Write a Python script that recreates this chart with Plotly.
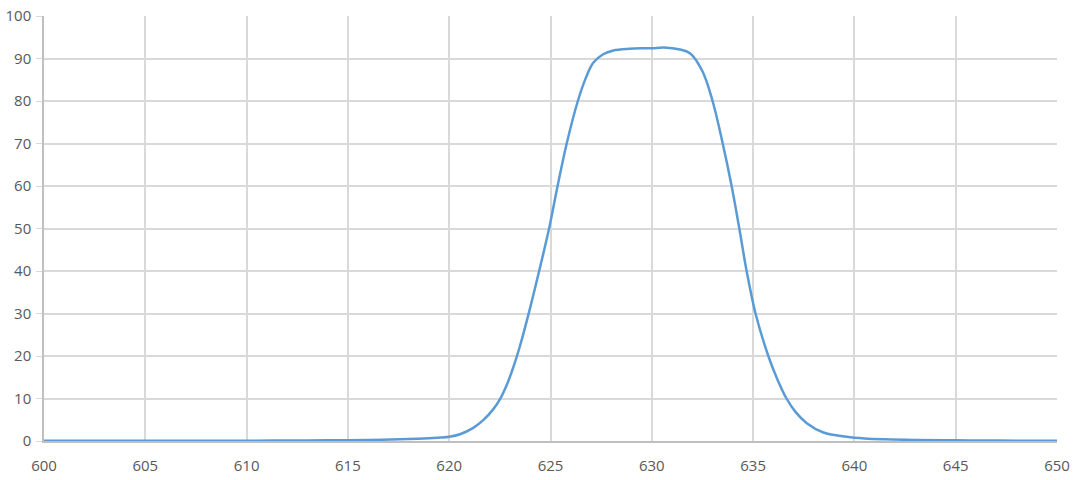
import plotly.graph_objects as go

# wavelength (nm) and transmission (%)
wavelength = [600, 605, 610, 612, 614, 616, 618, 619, 619.55, 620, 620.53, 621.19,
              621.68, 622.18, 622.5, 622.84, 623.16, 623.49, 623.95, 624.44, 624.93,
              625.35, 625.8, 626.35, 626.75, 627.11, 627.6, 628.1, 628.9, 629.5, 630.0,
              630.6, 631.4, 631.9, 632.5, 633.0, 633.5, 633.94, 634.32, 634.68, 635.12,
              635.75, 636.2, 636.65, 637.1, 637.65, 638.47, 639.62, 640.5, 641.5, 643,
              645, 647, 650]
transmission = [0.05, 0.05, 0.08, 0.1, 0.15, 0.25, 0.45, 0.65, 0.8, 1.0, 1.6, 3.1,
                4.9, 7.5, 9.8, 13.2, 17.3, 22.3, 30.5, 40, 50,
                60, 70, 80, 85.5, 89.0, 91.0, 91.9, 92.3, 92.4, 92.4,
                92.6, 92.1, 91.2, 87, 80, 70, 60, 50, 40, 30,
                20, 14.5, 10, 6.8, 4.2, 2.0, 1.0, 0.6, 0.4, 0.25,
                0.15, 0.1, 0.05]

x_ticks = list(range(600, 651, 5))
y_ticks = list(range(0, 101, 10))

fig = go.Figure()
fig.add_trace(go.Scatter(x=wavelength, y=transmission, mode="lines",
                         line=dict(color="#5B9BD5", width=2.5, shape="spline", smoothing=1.0),
                         hoverinfo="x+y"))

grid = "#D9D9D9"
fig.update_layout(
    width=1074, height=480,
    margin=dict(l=44, r=17, t=16, b=39),
    paper_bgcolor="white", plot_bgcolor="white",
    showlegend=False,
    font=dict(family="Open Sans", size=15, color="#595959"),
)
fig.update_xaxes(range=[600, 650], tickvals=x_ticks, showgrid=True, gridcolor=grid,
                 gridwidth=1.5, showline=True, linecolor="#BFBFBF", linewidth=1.5,
                 zeroline=False, ticks="", ticklabelstandoff=10, automargin=False)
fig.update_yaxes(range=[0, 100], tickvals=y_ticks, showgrid=True, gridcolor=grid,
                 gridwidth=1.5, showline=True, linecolor="#BFBFBF", linewidth=1.5,
                 zeroline=False, ticks="outside", ticklen=6, tickcolor=grid,
                 ticklabelstandoff=2, automargin=False)

# drop the default 8px page margin so the figure sits flush in the window
fig.write_html("out.html", config={"displayModeBar": False},
               post_script="document.body.style.margin='0';")
